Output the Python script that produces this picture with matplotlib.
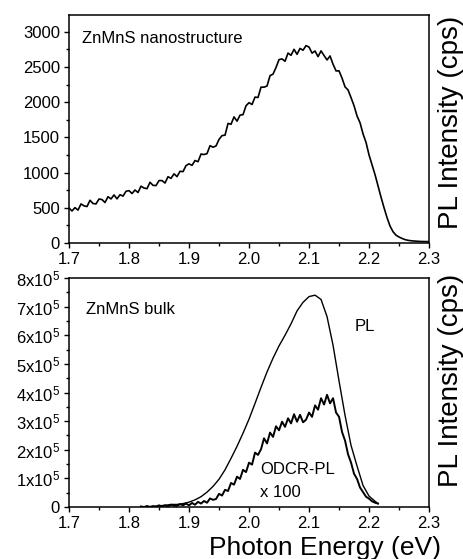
import matplotlib
matplotlib.use("Agg")
import matplotlib.pyplot as plt
import numpy as np
from matplotlib.ticker import MultipleLocator

plt.rcParams['font.family'] = ['Liberation Sans', 'DejaVu Sans']
plt.rcParams['mathtext.fontset'] = 'custom'
plt.rcParams['mathtext.rm'] = 'Liberation Sans'
plt.rcParams['mathtext.it'] = 'Liberation Sans'

# --- верхняя панель: наноструктура ---
nano_x = np.round(np.arange(1.700, 2.3001, 0.005), 3)
nano_y = [497, 455, 503, 467, 555, 528, 518, 607, 561, 555,
          625, 617, 575, 658, 626, 683, 627, 686, 666, 735,
          744, 703, 753, 717, 807, 781, 772, 863, 819, 816,
          887, 887, 852, 942, 918, 983, 943, 1019, 1014, 1100,
          1125, 1103, 1172, 1155, 1264, 1257, 1270, 1383, 1361, 1379,
          1472, 1526, 1532, 1699, 1687, 1792, 1731, 1817, 1824, 1950,
          1994, 1968, 2073, 2068, 2215, 2214, 2231, 2378, 2400, 2495,
          2606, 2616, 2582, 2699, 2667, 2752, 2681, 2765, 2739, 2805,
          2784, 2698, 2728, 2648, 2730, 2664, 2601, 2658, 2540, 2445,
          2446, 2342, 2218, 2175, 2065, 1950, 1805, 1708, 1550, 1428,
          1250, 1110, 970, 810, 650, 500, 360, 240, 160, 110,
          85, 65, 48, 38, 32, 28, 25, 22, 21, 20,
          20]

# --- нижняя панель: объёмный образец (в единицах 1e5) ---
pl_x = [1.82, 1.83, 1.84, 1.85, 1.86, 1.87, 1.88, 1.89, 1.90, 1.91,
        1.92, 1.93, 1.94, 1.95, 1.96, 1.97, 1.98, 1.99, 2.00, 2.01,
        2.02, 2.03, 2.04, 2.05, 2.06, 2.07, 2.08, 2.09, 2.10, 2.11,
        2.12, 2.13, 2.14, 2.15, 2.16, 2.17, 2.18, 2.19, 2.20, 2.21, 2.215]
pl_y = [0.00, 0.01, 0.02, 0.04, 0.06, 0.09, 0.09, 0.12, 0.17, 0.25,
        0.36, 0.52, 0.72, 0.97, 1.30, 1.70, 2.12, 2.58, 3.07, 3.62,
        4.18, 4.72, 5.20, 5.63, 6.00, 6.40, 6.85, 7.15, 7.35, 7.40,
        7.25, 6.65, 5.65, 4.40, 3.20, 2.15, 1.43, 0.75, 0.38, 0.20, 0.12]

odcr_x = np.round(np.arange(1.820, 2.2151, 0.005), 3)
odcr_y = [0.02, 0.00, 0.035, 0.00, 0.03, 0.01, 0.06, 0.02, 0.06, 0.02,
          0.08, 0.05, 0.04, 0.10, 0.06, 0.12, 0.06, 0.14, 0.08, 0.18,
          0.12, 0.21, 0.15, 0.30, 0.25, 0.28, 0.46, 0.40, 0.60, 0.56,
          0.84, 0.78, 1.06, 0.98, 1.30, 1.22, 1.55, 1.48, 1.90, 1.82,
          2.02, 2.40, 2.22, 2.60, 2.45, 2.82, 2.68, 2.98, 2.80, 3.10,
          2.92, 3.24, 2.98, 3.22, 2.96, 3.05, 3.30, 3.15, 3.55, 3.40,
          3.80, 3.58, 3.92, 3.62, 3.80, 3.30, 3.15, 2.62, 2.32, 1.84,
          1.55, 1.16, 0.98, 0.68, 0.52, 0.36, 0.29, 0.20, 0.15, 0.12]

x_ticks = [1.7, 1.8, 1.9, 2.0, 2.1, 2.2, 2.3]
x_ticklabels = ['1.7', '1.8', '1.9', '2.0', '2.1', '2.2', '2.3']
top_yticks = [0, 500, 1000, 1500, 2000, 2500, 3000]
bot_yticks = [0, 1e5, 2e5, 3e5, 4e5, 5e5, 6e5, 7e5, 8e5]
bot_yticklabels = ['0'] + [r'%dx10$^{5}$' % k for k in range(1, 9)]


def style_axes(ax):
    for sp in ax.spines.values():
        sp.set_linewidth(1.1)
    ax.tick_params(which='both', direction='out', top=False, right=False,
                   width=1.0, labelsize=12, pad=3)
    ax.tick_params(which='major', length=3.5)
    ax.tick_params(which='minor', length=2)
    ax.set_xlim(1.7, 2.3)
    ax.set_xticks(x_ticks)
    ax.set_xticklabels(x_ticklabels)
    ax.xaxis.set_minor_locator(MultipleLocator(0.05))


fig = plt.figure(figsize=(4.64, 5.59), dpi=100)
ax1 = fig.add_axes([0.1487, 0.5653, 0.776, 0.4079])
ax2 = fig.add_axes([0.1487, 0.0930, 0.776, 0.4097])

ax1.plot(nano_x, nano_y, color='black', linewidth=1.2)
style_axes(ax1)
ax1.set_ylim(0, 3240)
ax1.set_yticks(top_yticks)
ax1.yaxis.set_minor_locator(MultipleLocator(250))
ax1.text(1.721, 2900, 'ZnMnS nanostructure', fontsize=12, va='center')

ax2.plot(pl_x, [v * 1e5 for v in pl_y], color='black', linewidth=1.0)
ax2.plot(odcr_x, [v * 1e5 for v in odcr_y], color='black', linewidth=1.4)
style_axes(ax2)
ax2.set_ylim(0, 8e5)
ax2.set_yticks(bot_yticks)
ax2.set_yticklabels(bot_yticklabels)
ax2.yaxis.set_minor_locator(MultipleLocator(0.5e5))
ax2.text(1.728, 6.9e5, 'ZnMnS bulk', fontsize=12, va='center')
ax2.text(2.176, 6.3e5, 'PL', fontsize=12, va='center')
ax2.text(2.018, 1.3e5, 'ODCR-PL', fontsize=12, va='center')
ax2.text(2.018, 0.5e5, 'x 100', fontsize=12, va='center')

fig.text(451 / 464, 1 - 122 / 559, 'PL Intensity (cps)', rotation=90,
         fontsize=20, ha='center', va='center')
fig.text(451 / 464, 1 - 380 / 559, 'PL Intensity (cps)', rotation=90,
         fontsize=20, ha='center', va='center')
fig.text(325 / 464, 1 - 555 / 559, 'Photon Energy (eV)', fontsize=19,
         ha='center', va='baseline')

fig.savefig('out.png', dpi=100)
